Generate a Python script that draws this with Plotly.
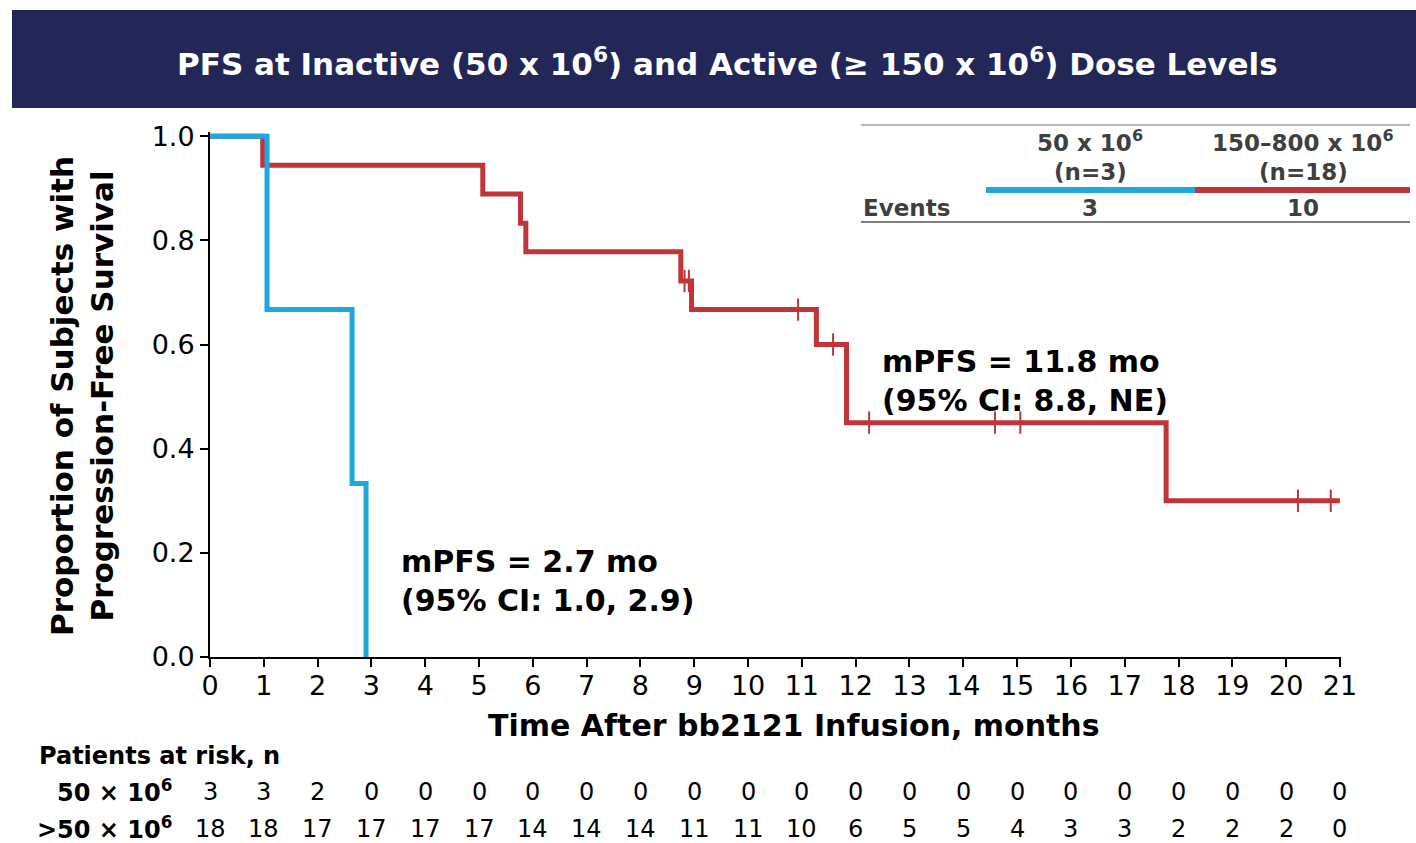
import plotly.graph_objects as go

# ---------------- data ----------------
blue_times = [0, 1.06, 2.64, 2.90]
blue_surv = [1.0, 0.667, 0.333, 0.0]

red_times = [0, 0.98, 5.07, 5.77, 5.87, 8.75, 8.95, 11.27, 11.83, 17.77, 21.0]
red_surv = [1.0, 0.944, 0.889, 0.833, 0.778, 0.722, 0.667, 0.60, 0.45, 0.30, 0.30]

red_censor_times = [8.82, 8.90, 10.93, 11.58, 12.25, 14.59, 15.06, 20.22, 20.83]
red_censor_surv = [0.722, 0.722, 0.667, 0.60, 0.45, 0.45, 0.45, 0.30, 0.30]

x_ticks = list(range(0, 22))
y_ticks = [0.0, 0.2, 0.4, 0.6, 0.8, 1.0]

risk_low = [3, 3, 2, 0, 0, 0, 0, 0, 0, 0, 0, 0, 0, 0, 0, 0, 0, 0, 0, 0, 0, 0]
risk_high = [18, 18, 17, 17, 17, 17, 14, 14, 14, 11, 11, 10, 6, 5, 5, 4, 3, 3, 2, 2, 2, 0]

events_low = 3
events_high = 10

BLUE = "#1FA8DC"
RED = "#C0353A"
NAVY = "#232758"
GRAY_TXT = "#3f3f3f"
FONT = "DejaVu Sans, Liberation Sans, Arial, sans-serif"

# ---------------- layout geometry ----------------
W, H = 1416, 843
L, R, T, B = 210, 75, 132, 186
PW = W - L - R
PH = H - T - B
Y_TOP = 1.008


def px(xp):
    return (xp - L) / PW


def py(yp):
    return (H - B - yp) / PH


fig = go.Figure()

fig.add_trace(go.Scatter(x=red_times, y=red_surv, mode="lines", line=dict(color=RED, width=5, shape="hv"),
                         showlegend=False, hoverinfo="skip"))
fig.add_trace(go.Scatter(x=red_censor_times, y=red_censor_surv, mode="markers",
                         marker=dict(symbol="line-ns", size=16, line=dict(color=RED, width=2)),
                         showlegend=False, hoverinfo="skip"))
fig.add_trace(go.Scatter(x=blue_times, y=blue_surv, mode="lines", line=dict(color=BLUE, width=5, shape="hv"),
                         showlegend=False, hoverinfo="skip"))

shapes = []
annotations = []

# header band
shapes.append(dict(type="rect", xref="paper", yref="paper", x0=px(12), x1=px(1416), y0=py(108), y1=py(10),
                   fillcolor=NAVY, line=dict(width=0), layer="above"))
annotations.append(dict(xref="paper", yref="paper", x=px(727), y=py(62), xanchor="center", yanchor="middle",
                        text="<b>PFS at Inactive (50 x 10<sup>6</sup>) and Active (≥ 150 x 10<sup>6</sup>) Dose Levels</b>",
                        showarrow=False, font=dict(family=FONT, size=31, color="white")))

# legend table
shapes.append(dict(type="line", xref="paper", yref="paper", x0=px(861), x1=px(1410), y0=py(125), y1=py(125),
                   line=dict(color="#b8b8b8", width=2)))
shapes.append(dict(type="line", xref="paper", yref="paper", x0=px(986), x1=px(1195), y0=py(190), y1=py(190),
                   line=dict(color=BLUE, width=6)))
shapes.append(dict(type="line", xref="paper", yref="paper", x0=px(1195), x1=px(1410), y0=py(190), y1=py(190),
                   line=dict(color=RED, width=6)))
shapes.append(dict(type="line", xref="paper", yref="paper", x0=px(861), x1=px(1410), y0=py(222), y1=py(222),
                   line=dict(color="#555555", width=1.5)))

tbl_font = dict(family=FONT, size=23, color=GRAY_TXT)
for xc, txt in [(1090, "<b>50 x 10<sup>6</sup></b>"), (1303, "<b>150–800 x 10<sup>6</sup></b>")]:
    annotations.append(dict(xref="paper", yref="paper", x=px(xc), y=py(141), xanchor="center", yanchor="middle",
                            text=txt, showarrow=False, font=tbl_font))
for xc, txt in [(1090, "<b>(n=3)</b>"), (1303, "<b>(n=18)</b>")]:
    annotations.append(dict(xref="paper", yref="paper", x=px(xc), y=py(172), xanchor="center", yanchor="middle",
                            text=txt, showarrow=False, font=tbl_font))
annotations.append(dict(xref="paper", yref="paper", x=px(861), y=py(208), xanchor="left", yanchor="middle",
                        text="<b>Events</b>", showarrow=False, font=tbl_font))
for xc, v in [(1090, events_low), (1303, events_high)]:
    annotations.append(dict(xref="paper", yref="paper", x=px(xc), y=py(208), xanchor="center", yanchor="middle",
                            text=f"<b>{v}</b>", showarrow=False, font=tbl_font))

# mPFS annotations
ann_font = dict(family=FONT, size=30, color="black")
annotations.append(dict(xref="paper", yref="paper", x=px(880), y=py(381), xanchor="left", yanchor="middle",
                        text="<b>mPFS = 11.8 mo<br>(95% CI: 8.8, NE)</b>", align="left", showarrow=False,
                        font=ann_font))
annotations.append(dict(xref="paper", yref="paper", x=px(399), y=py(581), xanchor="left", yanchor="middle",
                        text="<b>mPFS = 2.7 mo<br>(95% CI: 1.0, 2.9)</b>", align="left", showarrow=False,
                        font=ann_font))

# axis titles
annotations.append(dict(xref="paper", yref="paper", x=px(82), y=py(396), xanchor="center", yanchor="middle",
                        text="<b>Proportion of Subjects with<br>Progression-Free Survival</b>", textangle=-90,
                        showarrow=False, font=dict(family=FONT, size=31, color="black")))
annotations.append(dict(xref="paper", yref="paper", x=px(794), y=py(725), xanchor="center", yanchor="middle",
                        text="<b>Time After bb2121 Infusion, months</b>", showarrow=False,
                        font=dict(family=FONT, size=30, color="black")))

# at-risk table
annotations.append(dict(xref="paper", yref="paper", x=px(37), y=py(756), xanchor="left", yanchor="middle",
                        text="<b>Patients at risk, n</b>", showarrow=False,
                        font=dict(family=FONT, size=24, color="black")))
annotations.append(dict(xref="paper", yref="paper", x=px(174), y=py(791), xanchor="right", yanchor="middle",
                        text="<b>50 × 10<sup>6</sup></b>", showarrow=False,
                        font=dict(family=FONT, size=24, color="black")))
annotations.append(dict(xref="paper", yref="paper", x=px(174), y=py(828), xanchor="right", yanchor="middle",
                        text="<b>&gt;50 × 10<sup>6</sup></b>", showarrow=False,
                        font=dict(family=FONT, size=24, color="black")))
for t, a, b in zip(x_ticks, risk_low, risk_high):
    annotations.append(dict(xref="x", yref="paper", x=t, y=py(792), xanchor="center", yanchor="middle",
                            text=str(a), showarrow=False, font=dict(family=FONT, size=24, color="black")))
    annotations.append(dict(xref="x", yref="paper", x=t, y=py(829), xanchor="center", yanchor="middle",
                            text=str(b), showarrow=False, font=dict(family=FONT, size=24, color="black")))

fig.update_layout(
    width=W, height=H,
    margin=dict(l=L, r=R, t=T, b=B),
    paper_bgcolor="white", plot_bgcolor="white",
    shapes=shapes, annotations=annotations,
    font=dict(family=FONT, color="black"),
)
fig.update_xaxes(range=[0, 21.02], tickvals=x_ticks, ticktext=[str(v) for v in x_ticks],
                 showgrid=False, zeroline=False, showline=True, linecolor="black", linewidth=2,
                 ticks="outside", ticklen=8, tickwidth=2, tickcolor="black", ticklabelstandoff=-4,
                 tickfont=dict(family=FONT, size=27, color="black"), fixedrange=True)
fig.update_yaxes(range=[0, Y_TOP], tickvals=y_ticks, ticktext=[f"{v:.1f}" for v in y_ticks],
                 showgrid=False, zeroline=False, showline=True, linecolor="black", linewidth=2,
                 ticks="outside", ticklen=8, tickwidth=2, tickcolor="black",
                 tickfont=dict(family=FONT, size=27, color="black"), fixedrange=True)

fig.write_html("out.html", config={"displayModeBar": False})
